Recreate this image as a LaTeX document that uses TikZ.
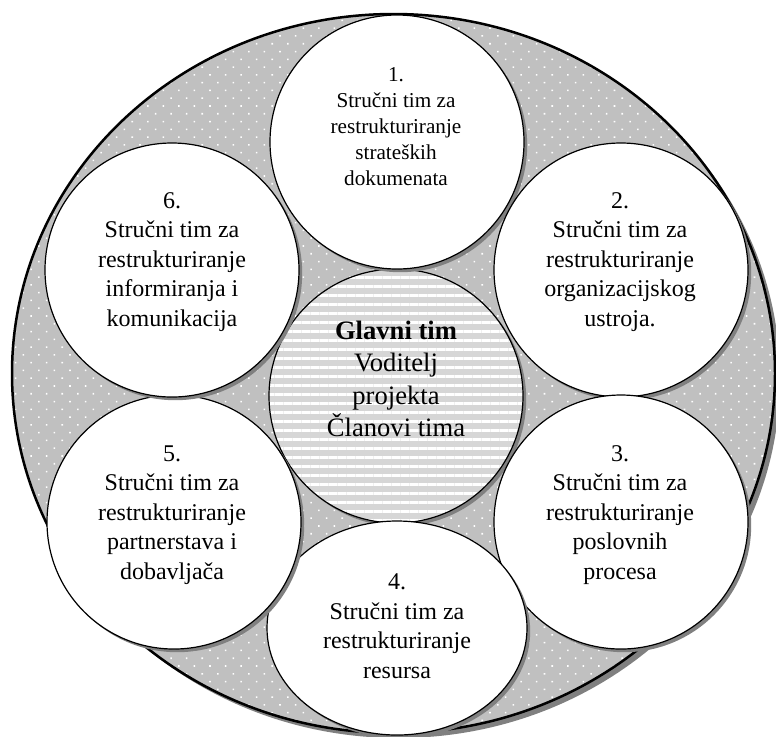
\documentclass[tikz,border=0pt]{standalone}
\usepackage{fontspec}
\setmainfont{Liberation Serif}
\usetikzlibrary{shapes.geometric,shadows,patterns.meta}

\definecolor{dotgray}{HTML}{C0C0C0}
\definecolor{stripegray}{HTML}{D6D6D6}
\definecolor{shadowgray}{HTML}{808080}

\tikzset{
  teamshadow/.style={drop shadow={shadow xshift=1.6pt, shadow yshift=-1.6pt, fill=shadowgray, opacity=1}},
  team/.style={circle, draw, line width=0.6pt, fill=white, minimum size=127pt, inner sep=0pt, teamshadow},
  teamtext/.style={align=center, font=\fontsize{12}{14.75}\selectfont},
}

\begin{document}
\begin{tikzpicture}[x=0.5pt, y=-0.5pt]
	\useasboundingbox (0,0) rectangle (776,736);

	% outer ring
	\node[ellipse, draw, line width=1.25pt, minimum width=381.5pt, minimum height=359.5pt, inner sep=0pt,
		drop shadow={shadow xshift=2.5pt, shadow yshift=-2.5pt, fill=shadowgray, opacity=1},
		preaction={fill=dotgray},
		preaction={pattern={Dots[distance=5.5pt, angle=45, radius=0.55pt]}, pattern color=white}] (outer) at (393.5,373.5) {};

	% main team
	\node[circle, draw, line width=0.6pt, minimum size=127pt, inner sep=0pt, teamshadow,
		preaction={fill=stripegray},
		preaction={pattern={Lines[distance=4.5pt, line width=1.5pt]}, pattern color=white}] (c0) at (396,396) {};
	\node[align=center, font=\fontsize{13.3}{16.25}\selectfont] (t0) at (396,379) {\textbf{Glavni tim}\\Voditelj\\projekta\\Članovi tima};

	% expert teams
	\node[team] (c1) at (397,142) {};
	\node[team] (c2) at (621,270) {};
	\node[team] (c3) at (621,522) {};
	\node[team, ellipse, minimum width=130pt, minimum height=107pt] (c4) at (397,628) {};
	\node[team] (c5) at (174,522) {};
	\node[team] (c6) at (172,270) {};

	\node[align=center, font=\fontsize{10.6}{13}\selectfont] (t1) at (396,127) {1.\\Stručni tim za\\restrukturiranje\\strateških\\dokumenata};
	\node[teamtext] (t2) at (620,262) {2.\\Stručni tim za\\restrukturiranje\\organizacijskog\\ustroja.};
	\node[teamtext] (t3) at (620,515) {3.\\Stručni tim za\\restrukturiranje\\poslovnih\\procesa};
	\node[teamtext] (t4) at (397,626) {4.\\Stručni tim za\\restrukturiranje\\resursa};
	\node[teamtext] (t5) at (172,515) {5.\\Stručni tim za\\restrukturiranje\\partnerstava i\\dobavljača};
	\node[teamtext] (t6) at (172,262) {6.\\Stručni tim za\\restrukturiranje\\informiranja i\\komunikacija};
\end{tikzpicture}
\end{document}
